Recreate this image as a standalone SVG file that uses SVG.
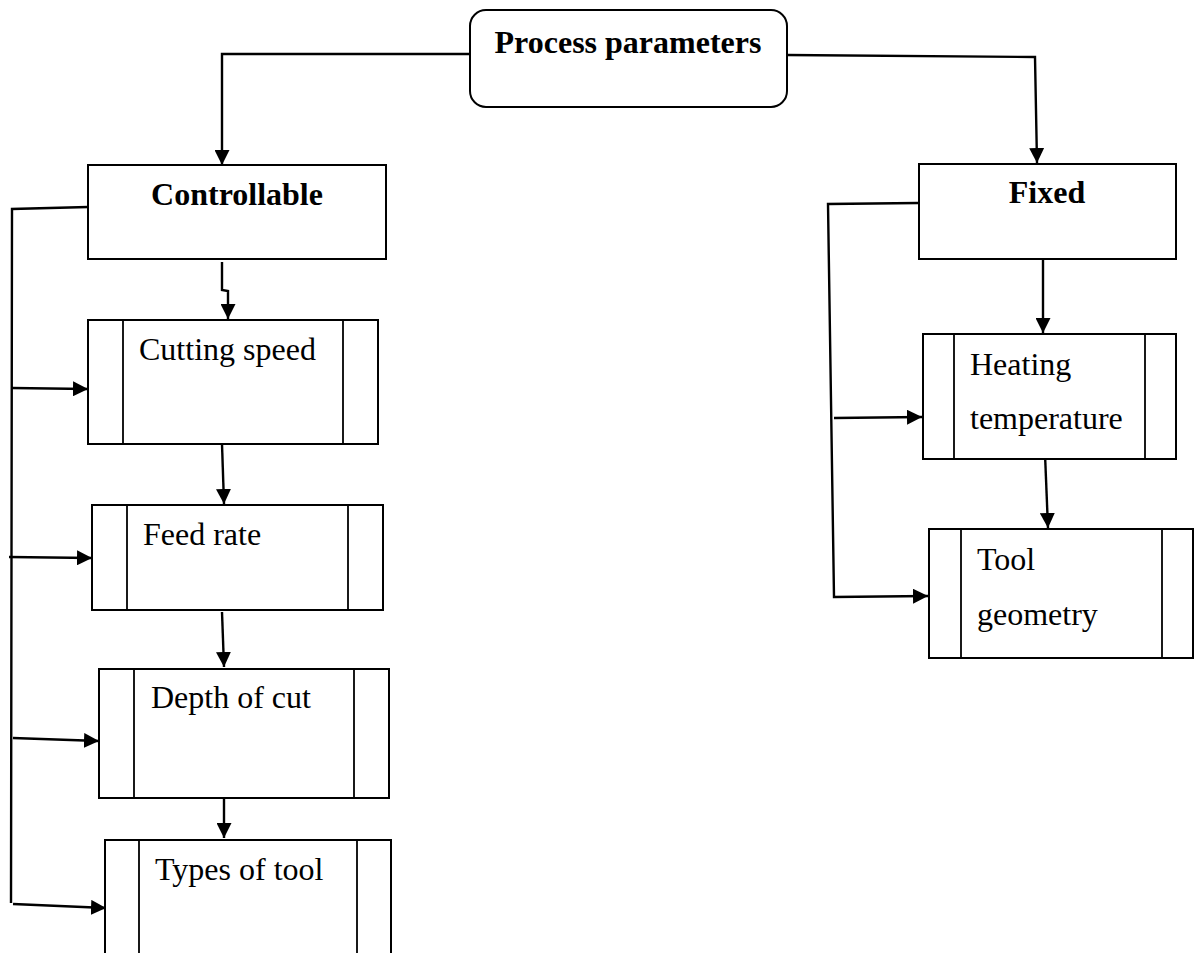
<svg xmlns="http://www.w3.org/2000/svg" width="1195" height="953" viewBox="0 0 1195 953">
<style>
.box{fill:#fff;stroke:#000;stroke-width:2}
.inner{stroke:#000;stroke-width:1.8;fill:none}
.conn{fill:none;stroke:#000;stroke-width:2.4}
.b{font-family:"Liberation Serif","Times New Roman",serif;font-weight:bold;font-size:32px;fill:#000}
.t{font-family:"Liberation Serif","Times New Roman",serif;font-size:32px;fill:#000}
</style>
<defs>
<marker id="ah" markerUnits="userSpaceOnUse" markerWidth="16" markerHeight="15" refX="15" refY="7.5" orient="auto">
<path d="M0,0 L15,7.5 L0,15 z" fill="#000"/>
</marker>
</defs>
<rect width="1195" height="953" fill="#fff"/>
<g id="connectors">
<polyline class="conn" points="470,54 222,54 222,165" marker-end="url(#ah)"/>
<polyline class="conn" points="787,55 1035,57 1037,163" marker-end="url(#ah)"/>
<polyline class="conn" points="222,262 222,290 228,291 228,319" marker-end="url(#ah)"/>
<polyline class="conn" points="222,444 224,504" marker-end="url(#ah)"/>
<polyline class="conn" points="222,612 224,667" marker-end="url(#ah)"/>
<polyline class="conn" points="224,798 224,838" marker-end="url(#ah)"/>
<polyline class="conn" points="88,207 12,209 11,903"/>
<polyline class="conn" points="12,388 88,389" marker-end="url(#ah)"/>
<polyline class="conn" points="9,557 92,558" marker-end="url(#ah)"/>
<polyline class="conn" points="13,738 99,741" marker-end="url(#ah)"/>
<polyline class="conn" points="13,904 106,908" marker-end="url(#ah)"/>
<polyline class="conn" points="1043,260 1043,333" marker-end="url(#ah)"/>
<polyline class="conn" points="1045,454 1048,528" marker-end="url(#ah)"/>
<polyline class="conn" points="918,203 828,204 834,597 928,596" marker-end="url(#ah)"/>
<polyline class="conn" points="834,418 922,417" marker-end="url(#ah)"/>
</g>
<g id="process">
<rect class="box" x="470" y="10" width="317" height="97" rx="16"/>
<text class="b" x="628" y="53" text-anchor="middle">Process parameters</text>
</g>
<g id="controllable">
<rect class="box" x="88" y="165" width="298" height="94"/>
<text class="b" x="237" y="205" text-anchor="middle">Controllable</text>
</g>
<g id="fixed">
<rect class="box" x="919" y="164" width="257" height="95"/>
<text class="b" x="1047" y="203" text-anchor="middle">Fixed</text>
</g>
<g id="cutting-speed">
<rect class="box" x="88" y="320" width="290" height="124"/>
<line class="inner" x1="123" y1="320" x2="123" y2="444"/>
<line class="inner" x1="343" y1="320" x2="343" y2="444"/>
<text class="t" x="139" y="360">Cutting speed</text>
</g>
<g id="feed-rate">
<rect class="box" x="92" y="505" width="291" height="105"/>
<line class="inner" x1="127" y1="505" x2="127" y2="610"/>
<line class="inner" x1="348" y1="505" x2="348" y2="610"/>
<text class="t" x="143" y="545">Feed rate</text>
</g>
<g id="depth-of-cut">
<rect class="box" x="99" y="669" width="290" height="129"/>
<line class="inner" x1="134" y1="669" x2="134" y2="798"/>
<line class="inner" x1="354" y1="669" x2="354" y2="798"/>
<text class="t" x="151" y="708">Depth of cut</text>
</g>
<g id="types-of-tool">
<path class="box" d="M105,960 L105,840 L391,840 L391,960"/>
<line class="inner" x1="139" y1="840" x2="139" y2="960"/>
<line class="inner" x1="357" y1="840" x2="357" y2="960"/>
<text class="t" x="155" y="880">Types of tool</text>
</g>
<g id="heating-temperature">
<rect class="box" x="923" y="334" width="253" height="125"/>
<line class="inner" x1="954" y1="334" x2="954" y2="459"/>
<line class="inner" x1="1145" y1="334" x2="1145" y2="459"/>
<text class="t" x="970" y="375">Heating</text>
<text class="t" x="970" y="429">temperature</text>
</g>
<g id="tool-geometry">
<rect class="box" x="929" y="529" width="264" height="129"/>
<line class="inner" x1="961" y1="529" x2="961" y2="658"/>
<line class="inner" x1="1162" y1="529" x2="1162" y2="658"/>
<text class="t" x="977" y="570">Tool</text>
<text class="t" x="977" y="625">geometry</text>
</g>
</svg>
